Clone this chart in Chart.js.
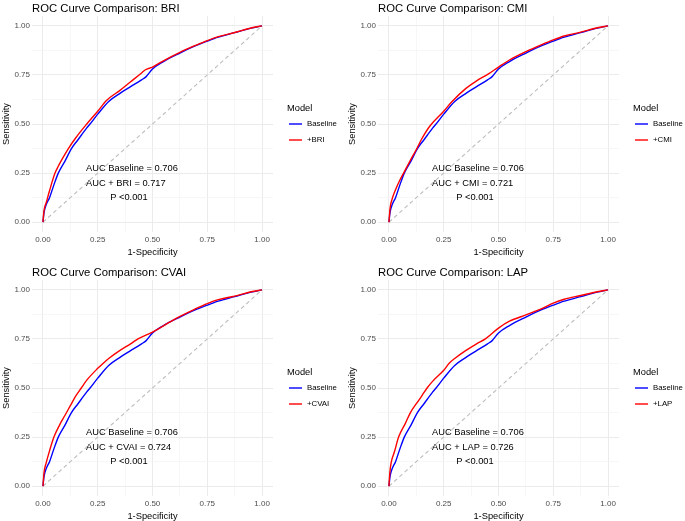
<!DOCTYPE html>
<html>
<head>
<meta charset="utf-8">
<script src="https://cdn.jsdelivr.net/npm/chart.js@4/dist/chart.umd.min.js"></script>
<style>
  body { margin: 0; background: #fff; }
  #wrap { position: relative; width: 685px; height: 521px; }
  canvas { position: absolute; }
</style>
</head>
<body>
<div id="wrap">
  <canvas id="rocBRI" width="340" height="258" style="left:0px;top:0px"></canvas>
  <canvas id="rocCMI" width="340" height="258" style="left:346px;top:0px"></canvas>
  <canvas id="rocCVAI" width="340" height="258" style="left:0px;top:264px"></canvas>
  <canvas id="rocLAP" width="340" height="258" style="left:346px;top:264px"></canvas>
</div>
<script>
// baseline model (same in every panel)
const baseFpr = [0, 0.005, 0.015, 0.03, 0.05, 0.07, 0.1, 0.13, 0.16, 0.2, 0.215, 0.25, 0.3, 0.35, 0.4, 0.45, 0.47, 0.5, 0.55, 0.625, 0.7, 0.75, 0.8, 0.875, 0.95, 1]
const baseTpr = [0, 0.05, 0.09, 0.125, 0.19, 0.25, 0.31, 0.375, 0.42, 0.48, 0.5, 0.55, 0.615, 0.655, 0.69, 0.725, 0.74, 0.78, 0.818, 0.861, 0.9, 0.922, 0.942, 0.965, 0.988, 1]

// baseline + marker
const briFpr = [0, 0.005, 0.015, 0.03, 0.055, 0.07, 0.1, 0.116, 0.15, 0.2, 0.25, 0.29, 0.35, 0.4, 0.45, 0.466, 0.5, 0.55, 0.625, 0.7, 0.75, 0.8, 0.875, 0.95, 1]
const briTpr = [0, 0.06, 0.1, 0.16, 0.25, 0.285, 0.345, 0.375, 0.43, 0.5, 0.565, 0.62, 0.67, 0.715, 0.76, 0.775, 0.79, 0.822, 0.865, 0.902, 0.925, 0.945, 0.966, 0.989, 1]

const cmiFpr = [0, 0.005, 0.015, 0.03, 0.05, 0.067, 0.1, 0.125, 0.15, 0.187, 0.25, 0.286, 0.35, 0.4, 0.454, 0.5, 0.55, 0.625, 0.7, 0.75, 0.8, 0.875, 0.95, 1]
const cmiTpr = [0, 0.07, 0.12, 0.165, 0.215, 0.25, 0.32, 0.37, 0.425, 0.49, 0.565, 0.612, 0.68, 0.72, 0.755, 0.79, 0.826, 0.868, 0.905, 0.928, 0.948, 0.968, 0.99, 1]

const cvaiFpr = [0, 0.005, 0.015, 0.03, 0.05, 0.075, 0.1, 0.125, 0.15, 0.175, 0.2, 0.25, 0.274, 0.3, 0.35, 0.4, 0.434, 0.5, 0.525, 0.6, 0.7, 0.75, 0.8, 0.875, 0.95, 1]
const cvaiTpr = [0, 0.07, 0.12, 0.18, 0.25, 0.31, 0.36, 0.41, 0.46, 0.5, 0.54, 0.6, 0.625, 0.65, 0.69, 0.725, 0.75, 0.785, 0.8, 0.85, 0.905, 0.93, 0.95, 0.968, 0.99, 1]

const lapFpr = [0, 0.004, 0.011, 0.025, 0.044, 0.075, 0.098, 0.125, 0.15, 0.174, 0.2, 0.25, 0.274, 0.3, 0.35, 0.4, 0.44, 0.5, 0.55, 0.625, 0.7, 0.75, 0.8, 0.875, 0.95, 1]
const lapTpr = [0, 0.07, 0.125, 0.175, 0.25, 0.32, 0.375, 0.42, 0.46, 0.5, 0.535, 0.59, 0.625, 0.65, 0.69, 0.725, 0.75, 0.805, 0.84, 0.872, 0.905, 0.932, 0.952, 0.971, 0.99, 1]

const diagX = [0, 1]
const diagY = [0, 1]

const markers = ['BRI', 'CMI', 'CVAI', 'LAP']
const aucBaseline = '0.706'
const aucMarker = ['0.717', '0.721', '0.724', '0.726']
const pText = 'P <0.001'
const majorTicks = [0, 0.25, 0.5, 0.75, 1]
const gridTicks = [0, 0.125, 0.25, 0.375, 0.5, 0.625, 0.75, 0.875, 1]

Chart.defaults.font.family = '"Liberation Sans", Arial, sans-serif'

function toPoints(xs, ys){
    return xs.map((x, i) => ({x: x, y: ys[i]}))
}

const panelText = {
    id: 'panelText',
    afterDraw(chart){
        const {ctx, chartArea, scales} = chart
        const info = chart.options.plugins.panelText
        ctx.save()
        ctx.textBaseline = 'middle'
        ctx.textAlign = 'left'

        // title
        ctx.fillStyle = '#000'
        ctx.font = '11.3px "Liberation Sans", Arial, sans-serif'
        ctx.fillText(info.title, chartArea.left, chartArea.top - 7)

        // AUC annotation
        ctx.font = '9.3px "Liberation Sans", Arial, sans-serif'
        const x1 = scales.x.getPixelForValue(0.197)
        const x3 = scales.x.getPixelForValue(0.307)
        ctx.fillText(info.lines[0], x1, scales.y.getPixelForValue(0.272))
        ctx.fillText(info.lines[1], x1, scales.y.getPixelForValue(0.199))
        ctx.fillText(info.lines[2], x3, scales.y.getPixelForValue(0.126))

        // legend
        const lx = chartArea.right + 14
        const cy = (chartArea.top + chartArea.bottom) / 2
        ctx.fillText('Model', lx, cy - 16)
        ctx.font = '7.8px "Liberation Sans", Arial, sans-serif'
        const items = chart.data.datasets.filter(d => d.label)
        items.forEach((d, i) => {
            const y = cy + i * 16
            ctx.strokeStyle = d.borderColor
            ctx.lineWidth = 1.4
            ctx.beginPath()
            ctx.moveTo(lx + 2, y)
            ctx.lineTo(lx + 15, y)
            ctx.stroke()
            ctx.fillStyle = '#000'
            ctx.fillText(d.label, lx + 20, y)
        })
        ctx.restore()
    }
}

function axisOptions(titleText, isX){
    return {
        type: 'linear',
        min: -0.05,
        max: 1.05,
        border: {display: false},
        afterBuildTicks: scale => {
            scale.ticks = gridTicks.map(v => ({value: v}))
        },
        afterFit: scale => {
            if (isX) scale.height = 26
            else scale.width = 32
        },
        grid: {
            drawTicks: false,
            color: ctx => majorTicks.includes(ctx.tick.value) ? '#EBEBEB' : '#F3F3F3',
            lineWidth: ctx => majorTicks.includes(ctx.tick.value) ? 1 : 0.7
        },
        ticks: {
            autoSkip: false,
            maxRotation: 0,
            padding: isX ? 3 : 2,
            color: '#4D4D4D',
            font: {size: 8},
            callback: v => majorTicks.includes(v) ? v.toFixed(2) : ''
        },
        title: {
            display: true,
            text: titleText,
            color: '#000',
            font: {size: 9.3},
            padding: {top: isX ? 2.4 : 1, bottom: 0}
        }
    }
}

function graphRoc(canvasId, k, fpr, tpr){
    const data = {
        datasets: [{
            label: 'Baseline',
            data: toPoints(baseFpr, baseTpr),
            borderColor: '#0000FF',
            backgroundColor: '#0000FF',
            borderWidth: 1.4,
            pointRadius: 0,
            cubicInterpolationMode: 'monotone',
            order: 1
        }, {
            label: '+' + markers[k],
            data: toPoints(fpr, tpr),
            borderColor: '#FF0000',
            backgroundColor: '#FF0000',
            borderWidth: 1.4,
            pointRadius: 0,
            cubicInterpolationMode: 'monotone',
            order: 0
        }, {
            data: toPoints(diagX, diagY),
            borderColor: '#BEBEBE',
            borderWidth: 1.1,
            borderDash: [4, 3],
            pointRadius: 0,
            order: 2
        }]
    }

    const config = {
        type: 'line',
        data: data,
        options: {
            responsive: false,
            animation: false,
            devicePixelRatio: 1,
            layout: {padding: {top: 16, right: 67, left: 0, bottom: 0}},
            scales: {
                x: axisOptions('1-Specificity', true),
                y: axisOptions('Sensitivity', false)
            },
            plugins: {
                legend: {display: false},
                tooltip: {enabled: false},
                panelText: {
                    title: 'ROC Curve Comparison: ' + markers[k],
                    lines: [
                        'AUC Baseline = ' + aucBaseline,
                        'AUC + ' + markers[k] + ' = ' + aucMarker[k],
                        pText
                    ]
                }
            }
        },
        plugins: [panelText]
    }

    new Chart(document.getElementById(canvasId), config)
}

graphRoc('rocBRI', 0, briFpr, briTpr)
graphRoc('rocCMI', 1, cmiFpr, cmiTpr)
graphRoc('rocCVAI', 2, cvaiFpr, cvaiTpr)
graphRoc('rocLAP', 3, lapFpr, lapTpr)
</script>
</body>
</html>
